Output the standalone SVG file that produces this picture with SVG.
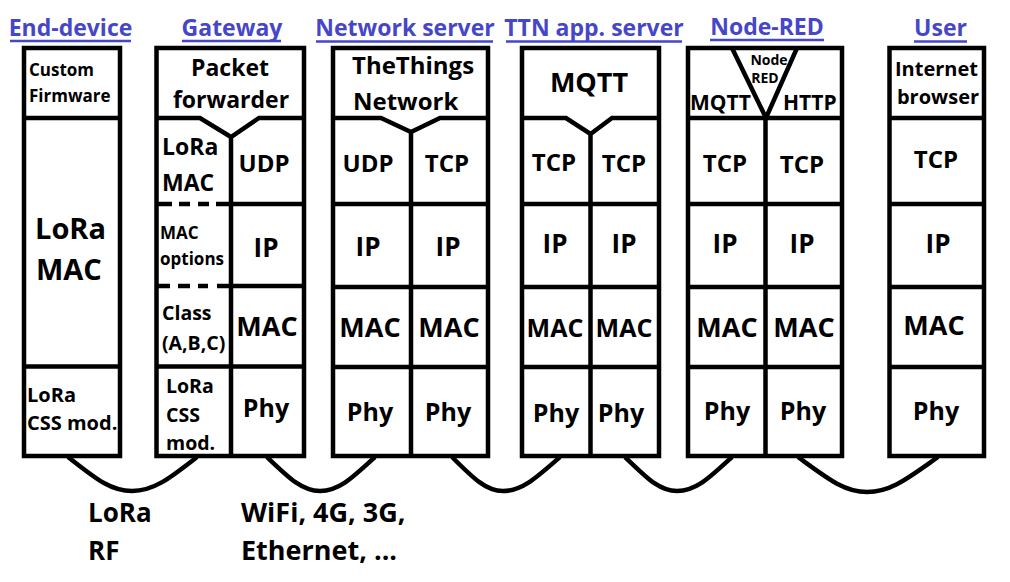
<svg xmlns="http://www.w3.org/2000/svg" width="1010" height="582" viewBox="0 0 1010 582">
<style>
.bx{fill:none;stroke:#000;stroke-width:4.5}
.ln{fill:none;stroke:#000;stroke-width:4.5}
.cv{fill:none;stroke:#000;stroke-width:4.5}
.t{font-family:"Open Sans","Liberation Sans",sans-serif;font-weight:700;fill:#000}
.m{text-anchor:middle}
.h{font-family:"Open Sans","Liberation Sans",sans-serif;font-weight:700;fill:#4646c8;font-size:23px;text-anchor:middle}
.ul{stroke:#4646c8;stroke-width:2.5}
.s17{font-size:17px}.s19{font-size:19.5px}.s20{font-size:20px}.s21{font-size:21px}
.s23{font-size:23px}.s24{font-size:24px}.s25{font-size:25px}.s26{font-size:26px}
.s27{font-size:27px}.s29{font-size:29px}.s14{font-size:14px}
</style>
<rect width="1010" height="582" fill="#fff"/>

<g id="end-device">
<text class="h" x="70.5" y="36">End-device</text>
<line class="ul" x1="10" y1="41" x2="131" y2="41"/>
<rect class="bx" x="24" y="48" width="96" height="408"/>
<path class="ln" d="M22,118 H120 M24,366.5 H120"/>
<text class="t s17" x="29" y="76">Custom</text>
<text class="t s17" x="29" y="102">Firmware</text>
<text class="t s29" x="35" y="239">LoRa</text>
<text class="t s29" x="36" y="280">MAC</text>
<text class="t s20" x="27" y="402">LoRa</text>
<text class="t s20" x="27" y="430">CSS mod.</text>
</g>

<g id="gateway">
<text class="h" x="232" y="36">Gateway</text>
<line class="ul" x1="182" y1="41" x2="281" y2="41"/>
<rect class="bx" x="156.5" y="48" width="147.5" height="408"/>
<path class="ln" d="M156.5,118 H200 L231,137 L259,118 H304 M231,137 V456"/>
<path class="ln" d="M156,204 H172 M179,204 H190 M198,204 H209 M216,204 H231 M231,204 H304"/>
<path class="ln" d="M156,286 H170 M178,286 H190 M198,286 H208 M217,286 H231 M231,286 H304"/>
<path class="ln" d="M156.5,366.5 H304"/>
<text class="t s23 m" x="230" y="76">Packet</text>
<text class="t s23 m" x="231" y="108">forwarder</text>
<text class="t s23" x="162" y="155">LoRa</text>
<text class="t s23" x="162" y="191">MAC</text>
<text class="t s24 m" x="264" y="172">UDP</text>
<text class="t s17" x="160" y="239">MAC</text>
<text class="t s17" x="160" y="265">options</text>
<text class="t s26 m" x="266" y="257">IP</text>
<text class="t s19" x="162" y="320">Class</text>
<text class="t s19" x="162" y="350">(A,B,C)</text>
<text class="t s27 m" x="267" y="336">MAC</text>
<text class="t s19" x="166" y="393">LoRa</text>
<text class="t s19" x="166" y="422">CSS</text>
<text class="t s19" x="166" y="450">mod.</text>
<text class="t s25 m" x="266" y="417">Phy</text>
</g>

<g id="network-server">
<text class="h" x="405" y="36">Network server</text>
<line class="ul" x1="316" y1="41.5" x2="493" y2="41.5"/>
<rect class="bx" x="333" y="48" width="155" height="408"/>
<path class="ln" d="M333,118 H381 L411,132 L440,118 H488 M411,132 V456 M333,204 H488 M333,287 H488 M333,367 H488"/>
<text class="t s24" x="352" y="74">TheThings</text>
<text class="t s24" x="353" y="110">Network</text>
<text class="t s24 m" x="368" y="172">UDP</text>
<text class="t s24 m" x="447" y="172">TCP</text>
<text class="t s26 m" x="368" y="256">IP</text>
<text class="t s26 m" x="448" y="256">IP</text>
<text class="t s27 m" x="370" y="337">MAC</text>
<text class="t s27 m" x="449" y="337">MAC</text>
<text class="t s25 m" x="370" y="421">Phy</text>
<text class="t s25 m" x="448" y="421">Phy</text>
</g>

<g id="ttn-app-server">
<text class="h" x="594" y="36">TTN app. server</text>
<line class="ul" x1="506" y1="41.5" x2="682" y2="41.5"/>
<rect class="bx" x="522" y="48" width="137" height="408"/>
<path class="ln" d="M522,118 H566 L590.5,134 L612,118 H659 M590.5,134 V456 M522,204 H659 M522,287 H659 M522,367 H659"/>
<text class="t s27 m" x="589" y="92">MQTT</text>
<text class="t s24 m" x="554" y="171">TCP</text>
<text class="t s24 m" x="624" y="172">TCP</text>
<text class="t s26 m" x="555" y="253">IP</text>
<text class="t s26 m" x="624" y="253">IP</text>
<text class="t s25 m" x="555" y="337">MAC</text>
<text class="t s25 m" x="624" y="337">MAC</text>
<text class="t s25 m" x="556" y="422">Phy</text>
<text class="t s25 m" x="621" y="422">Phy</text>
</g>

<g id="node-red">
<text class="h" x="767" y="35">Node-RED</text>
<line class="ul" x1="710" y1="40" x2="824" y2="40"/>
<rect class="bx" x="688" y="48" width="154" height="408"/>
<path class="ln" d="M688,118 H842 M732,48 L766,118 L797,48 M765.5,118 V456 M688,204 H842 M688,287 H842 M688,367 H842"/>
<text class="t s14 m" x="769" y="65">Node</text>
<text class="t s14 m" x="765" y="83">RED</text>
<text class="t s21" x="690" y="110">MQTT</text>
<text class="t s21" x="783" y="110">HTTP</text>
<text class="t s24 m" x="725" y="172">TCP</text>
<text class="t s24 m" x="802" y="173">TCP</text>
<text class="t s26 m" x="725" y="253">IP</text>
<text class="t s26 m" x="802" y="253">IP</text>
<text class="t s27 m" x="727" y="337">MAC</text>
<text class="t s27 m" x="804" y="337">MAC</text>
<text class="t s25 m" x="727" y="420">Phy</text>
<text class="t s25 m" x="803" y="420">Phy</text>
</g>

<g id="user">
<text class="h" x="940.5" y="36">User</text>
<line class="ul" x1="914" y1="41.5" x2="967" y2="41.5"/>
<rect class="bx" x="889.5" y="48" width="94.5" height="408"/>
<path class="ln" d="M889.5,118 H984 M889.5,204 H984 M889.5,287 H984 M889.5,367 H984"/>
<text class="t s20 m" x="936.5" y="76">Internet</text>
<text class="t s20 m" x="938" y="104">browser</text>
<text class="t s24 m" x="936" y="168">TCP</text>
<text class="t s26 m" x="938" y="253">IP</text>
<text class="t s27 m" x="934" y="335">MAC</text>
<text class="t s25 m" x="936" y="420">Phy</text>
</g>

<g id="connectors">
<path class="cv" d="M68,457 C95,478 110,491 132,491 C154,491 170,478 197,457"/>
<path class="cv" d="M267,457 C289,478 302,491 320,491 C339,491 352,478 375,457"/>
<path class="cv" d="M452,457 C473,478 486,491 503,491 C522,491 536,478 560,457"/>
<path class="cv" d="M625,457 C647,478 659,491 677,491 C696,491 709,478 732,457"/>
<path class="cv" d="M798,457 C827,478 844,492 867,492 C891,492 908,478 938,457"/>
</g>

<g id="labels">
<text class="t s26" x="88" y="522">LoRa</text>
<text class="t s26" x="88" y="560">RF</text>
<text class="t s27" x="241" y="522">WiFi, 4G, 3G,</text>
<text class="t s27" x="241" y="560">Ethernet, ...</text>
</g>
</svg>
